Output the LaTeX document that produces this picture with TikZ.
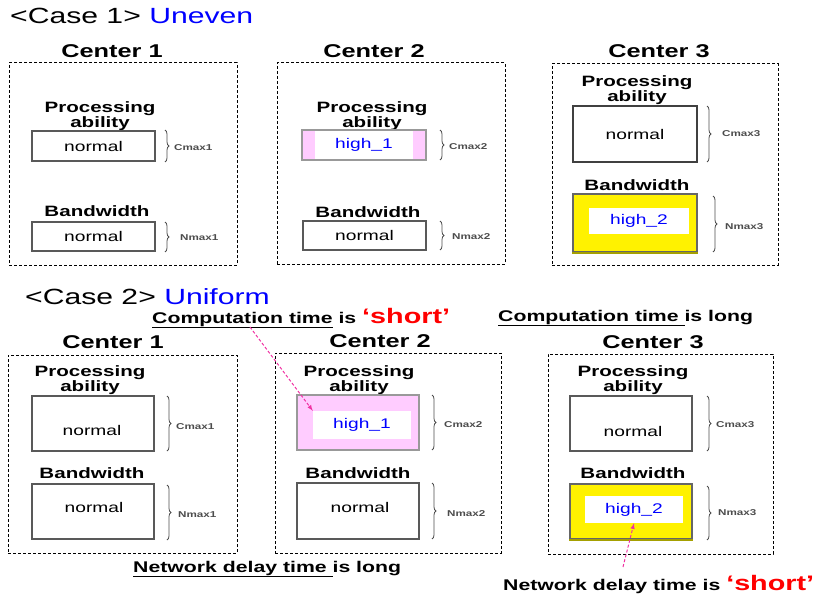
\documentclass[tikz,border=0pt]{standalone}
\usepackage{fontspec}
\setmainfont[FakeStretch=1.37]{Liberation Sans}
\usetikzlibrary{decorations.pathreplacing}
\pgfdeclarelayer{edgelayer}
\pgfdeclarelayer{nodelayer}
\pgfsetlayers{edgelayer,nodelayer,main}
\definecolor{pinkfill}{RGB}{255,204,255}
\definecolor{olivebar}{RGB}{165,160,0}
\tikzstyle{none}=[inner sep=0pt]
\tikzstyle{heading}=[inner sep=0pt,anchor=west,font=\fontsize{22}{22}\selectfont]
\tikzstyle{title}=[inner sep=0pt,font=\bfseries\fontsize{18.5}{18.5}\selectfont]
\tikzstyle{site}=[draw=black,densely dashed,line width=1pt,inner sep=0pt]
\tikzstyle{caption}=[inner sep=0pt,align=center,font=\bfseries\fontsize{15}{13.5}\selectfont]
\tikzstyle{cell}=[draw=black!65,line width=1.2pt,fill=white,inner sep=0pt,font=\fontsize{14}{14}\selectfont]
\tikzstyle{pinkcell}=[cell,fill=pinkfill,draw=black!40]
\tikzstyle{yellowcell}=[cell,fill=yellow,draw=black!60]
\tikzstyle{core}=[fill=white,inner sep=0pt,text=blue,font=\fontsize{14}{14}\selectfont]
\tikzstyle{word}=[inner sep=0pt,font=\fontsize{14}{14}\selectfont]
\tikzstyle{brace}=[decorate,decoration={brace,amplitude=4pt},draw=black!70,line width=0.8pt]
\tikzstyle{limit}=[inner sep=0pt,anchor=west,text=black!70,font=\bfseries\fontsize{8.5}{8.5}\selectfont]
\tikzstyle{remark}=[inner sep=0pt,anchor=west,font=\bfseries\fontsize{15.5}{15.5}\selectfont]
\tikzstyle{pointer}=[-latex,draw=magenta!80,densely dashed,line width=1pt]
\tikzstyle{olive}=[-,draw=olivebar,line width=2pt]
\newcommand{\shortword}{{\fontsize{21}{21}\selectfont\textcolor{red}{‘short’}}}

\begin{document}
\begin{tikzpicture}[x=1pt,y=-1pt]
	\useasboundingbox (0,0) rectangle (815,594);
	\begin{pgfonlayer}{nodelayer}
		% case 1
		\node [style=heading] (0) at (10,16) {<Case 1> \textcolor{blue}{Uneven}};
		\node [style=title] (1) at (112,51) {Center 1};
		\node [style=site, minimum width=228pt, minimum height=202pt] (2) at (123,164) {};
		\node [style=caption] (3) at (100,116) {Processing\\ability};
		\node [style=cell, minimum width=123pt, minimum height=30pt] (4) at (93.5,146) {normal};
		\node [style=none] (5) at (165,130) {};
		\node [style=none] (6) at (165,162) {};
		\node [style=limit] (7) at (174,148) {Cmax1};
		\node [style=caption] (8) at (97,211) {Bandwidth};
		\node [style=cell, minimum width=123pt, minimum height=29pt] (9) at (93.5,236.5) {normal};
		\node [style=none] (10) at (165,222) {};
		\node [style=none] (11) at (165,252) {};
		\node [style=limit] (12) at (180,238) {Nmax1};

		\node [style=title] (13) at (374,51) {Center 2};
		\node [style=site, minimum width=228pt, minimum height=201pt] (14) at (391,163.5) {};
		\node [style=caption] (15) at (372,116) {Processing\\ability};
		\node [style=pinkcell, minimum width=124pt, minimum height=30pt] (16) at (364,145) {};
		\node [style=core, minimum width=98pt, minimum height=28pt] (17) at (364,145) {high\_1};
		\node [style=none] (18) at (440,130) {};
		\node [style=none] (19) at (440,160) {};
		\node [style=limit] (20) at (449,147) {Cmax2};
		\node [style=caption] (21) at (368,212) {Bandwidth};
		\node [style=cell, minimum width=123pt, minimum height=29pt] (22) at (364.5,235.5) {normal};
		\node [style=none] (23) at (440,221) {};
		\node [style=none] (24) at (440,250) {};
		\node [style=limit] (25) at (452,237) {Nmax2};

		\node [style=title] (26) at (659,51) {Center 3};
		\node [style=site, minimum width=226pt, minimum height=201pt] (27) at (665,164.5) {};
		\node [style=caption] (28) at (637,90) {Processing\\ability};
		\node [style=cell, draw=black!75, line width=2pt, minimum width=124pt, minimum height=56pt] (29) at (635,134) {normal};
		\node [style=none] (30) at (707,106) {};
		\node [style=none] (31) at (707,162) {};
		\node [style=limit] (32) at (722,134) {Cmax3};
		\node [style=caption] (33) at (637,185) {Bandwidth};
		\node [style=yellowcell, minimum width=124pt, minimum height=58pt] (34) at (635,223) {};
		\node [style=core, minimum width=100pt, minimum height=26pt] (35) at (639,221) {high\_2};
		\node [style=none] (36) at (713,196) {};
		\node [style=none] (37) at (713,252) {};
		\node [style=limit] (38) at (725,227) {Nmax3};

		% case 2
		\node [style=heading] (39) at (25,297) {<Case 2> \textcolor{blue}{Uniform}};
		\node [style=remark] (40) at (152,318) {\underline{Computation time} is \shortword};
		\node [style=remark] (41) at (498,318) {\underline{Computation time }is long};
		\node [style=title] (42) at (113,342) {Center 1};
		\node [style=site, minimum width=229pt, minimum height=198pt] (43) at (122.5,454) {};
		\node [style=caption] (44) at (90,380) {Processing\\ability};
		\node [style=cell, minimum width=122pt, minimum height=55pt] (45) at (93,423.5) {};
		\node [style=word] (84) at (92,430) {normal};
		\node [style=none] (46) at (167,396) {};
		\node [style=none] (47) at (167,451) {};
		\node [style=limit] (48) at (176,427) {Cmax1};
		\node [style=caption] (49) at (92,473) {Bandwidth};
		\node [style=cell, minimum width=122pt, minimum height=55pt] (50) at (93,511.5) {};
		\node [style=word] (85) at (94,507) {normal};
		\node [style=none] (51) at (167,485) {};
		\node [style=none] (52) at (167,540) {};
		\node [style=limit] (53) at (178,515) {Nmax1};
		\node [style=remark] (54) at (133,569) {\underline{Network delay time }is long};

		\node [style=title] (55) at (380,341) {Center 2};
		\node [style=site, minimum width=226pt, minimum height=200pt] (56) at (388,453) {};
		\node [style=caption] (57) at (359,380) {Processing\\ability};
		\node [style=pinkcell, minimum width=122pt, minimum height=55pt] (58) at (358,422.5) {};
		\node [style=core, minimum width=98pt, minimum height=28pt] (59) at (362,425) {high\_1};
		\node [style=none] (60) at (432,395) {};
		\node [style=none] (61) at (432,450) {};
		\node [style=limit] (62) at (444,425) {Cmax2};
		\node [style=caption] (63) at (358,473) {Bandwidth};
		\node [style=cell, minimum width=122pt, minimum height=56pt] (64) at (358,511) {};
		\node [style=word] (86) at (360,507) {normal};
		\node [style=none] (65) at (432,483) {};
		\node [style=none] (66) at (432,539) {};
		\node [style=limit] (67) at (447,514) {Nmax2};
		\node [style=none] (68) at (250,327) {};

		\node [style=title] (69) at (653,342) {Center 3};
		\node [style=site, minimum width=225pt, minimum height=200pt] (70) at (660.5,454) {};
		\node [style=caption] (71) at (633,380) {Processing\\ability};
		\node [style=cell, minimum width=122pt, minimum height=55pt] (72) at (631,423.5) {};
		\node [style=word] (87) at (633,431) {normal};
		\node [style=none] (73) at (707,396) {};
		\node [style=none] (74) at (707,451) {};
		\node [style=limit] (75) at (716,425) {Cmax3};
		\node [style=caption] (76) at (633,473) {Bandwidth};
		\node [style=yellowcell, minimum width=122pt, minimum height=55pt] (77) at (631,511.5) {};
		\node [style=core, minimum width=98pt, minimum height=27pt] (78) at (634,509.5) {high\_2};
		\node [style=none] (79) at (707,486) {};
		\node [style=none] (80) at (707,540) {};
		\node [style=limit] (81) at (718,513) {Nmax3};
		\node [style=none] (82) at (623,567) {};
		\node [style=remark] (83) at (503,585) {\underline{Network delay time }is \shortword};
	\end{pgfonlayer}
	\begin{pgfonlayer}{edgelayer}
		\draw [style=brace] (5.center) to (6.center);
		\draw [style=brace] (10.center) to (11.center);
		\draw [style=brace] (18.center) to (19.center);
		\draw [style=brace] (23.center) to (24.center);
		\draw [style=brace] (30.center) to (31.center);
		\draw [style=brace] (36.center) to (37.center);
		\draw [style=brace] (46.center) to (47.center);
		\draw [style=brace] (51.center) to (52.center);
		\draw [style=brace] (60.center) to (61.center);
		\draw [style=brace] (65.center) to (66.center);
		\draw [style=brace] (73.center) to (74.center);
		\draw [style=brace] (79.center) to (80.center);
	\end{pgfonlayer}
	\draw [style=olive] (34.south west) to (34.south east);
	\draw [style=olive] (77.south west) to (77.south east);
	\draw [style=pointer] (68.center) to (59.north west);
	\draw [style=pointer] (82.center) to (78.south);
\end{tikzpicture}
\end{document}
